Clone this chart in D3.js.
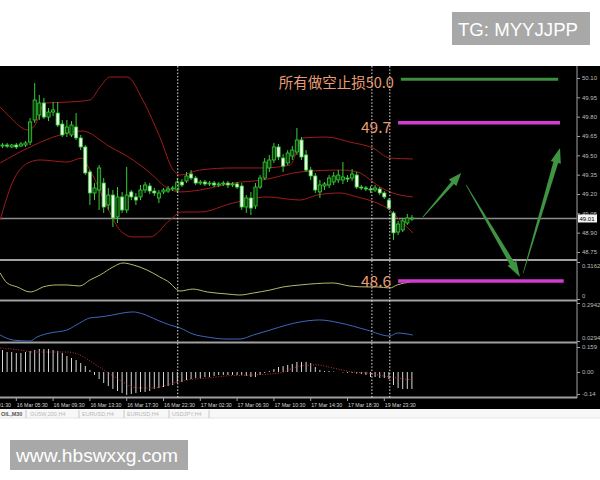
<!DOCTYPE html>
<html><head><meta charset="utf-8">
<script src="https://cdn.jsdelivr.net/npm/d3@7"></script>
<style>body{margin:0;background:#fff}svg{display:block}</style>
</head><body>
<svg id="c" width="600" height="480"></svg>
<script>
// ---------------- DATA ----------------
const timeLabels = ["16 Mar 01:30","16 Mar 05:30","16 Mar 09:30","16 Mar 13:30","16 Mar 17:30","16 Mar 22:30","17 Mar 02:30","17 Mar 06:30","17 Mar 10:30","17 Mar 14:30","17 Mar 18:30","19 Mar 23:30"];
const timeLabelIdx = [-5,3,11,19,27,35,43,51,59,67,75,83];

const open  = [49.572,49.580,49.565,49.580,49.572,49.580,49.603,49.774,49.813,49.906,49.797,49.836,49.828,49.743,49.673,49.658,49.720,49.635,49.565,49.371,
49.208,49.231,49.285,49.115,49.192,49.022,49.177,49.076,49.216,49.177,49.177,49.231,49.262,49.223,49.169,49.216,49.223,49.239,49.231,49.293,
49.301,49.355,49.324,49.285,49.293,49.278,49.285,49.270,49.278,49.285,49.270,49.278,49.262,49.099,49.169,49.107,49.254,49.324,49.402,49.464,
49.565,49.479,49.441,49.495,49.526,49.619,49.503,49.386,49.340,49.216,49.262,49.270,49.293,49.309,49.309,49.324,49.324,49.347,49.254,49.247,
49.239,49.231,49.239,49.208,49.153,49.053,48.905,48.921,48.975,49.006];
const high  = [49.596,49.596,49.588,49.596,49.603,49.611,49.790,50.061,49.968,49.945,49.867,49.914,49.914,49.774,49.774,49.766,49.828,49.658,49.580,49.386,
49.285,49.425,49.324,49.247,49.231,49.254,49.216,49.410,49.231,49.208,49.270,49.293,49.285,49.247,49.231,49.247,49.262,49.262,49.324,49.316,
49.371,49.386,49.340,49.309,49.309,49.301,49.301,49.293,49.301,49.301,49.293,49.293,49.285,49.192,49.216,49.285,49.347,49.479,49.503,49.596,
49.588,49.510,49.541,49.572,49.712,49.642,49.541,49.410,49.363,49.309,49.293,49.347,49.371,49.386,49.448,49.347,49.394,49.371,49.270,49.262,
49.262,49.270,49.254,49.223,49.169,49.068,48.991,49.014,49.045,49.037];
const low   = [49.557,49.557,49.557,49.549,49.565,49.565,49.580,49.751,49.774,49.782,49.766,49.805,49.720,49.642,49.642,49.642,49.619,49.541,49.347,49.115,
49.153,49.076,49.053,49.076,48.944,48.975,49.053,49.053,49.153,49.115,49.153,49.208,49.200,49.185,49.130,49.200,49.208,49.223,49.208,49.254,
49.285,49.309,49.270,49.270,49.262,49.262,49.254,49.254,49.262,49.247,49.254,49.239,49.076,49.053,49.037,49.084,49.239,49.309,49.371,49.441,
49.464,49.371,49.425,49.464,49.503,49.464,49.371,49.309,49.208,49.169,49.231,49.247,49.270,49.285,49.278,49.293,49.301,49.239,49.231,49.223,
49.208,49.216,49.192,49.161,49.076,48.843,48.882,48.905,48.960,48.991];
const close = [49.580,49.572,49.580,49.565,49.588,49.596,49.759,49.929,49.906,49.797,49.836,49.852,49.735,49.658,49.720,49.735,49.635,49.565,49.363,49.208,
49.247,49.402,49.099,49.192,49.014,49.177,49.076,49.192,49.177,49.153,49.231,49.270,49.223,49.208,49.208,49.231,49.239,49.247,49.293,49.270,
49.340,49.324,49.285,49.293,49.278,49.285,49.270,49.278,49.285,49.270,49.278,49.254,49.099,49.169,49.091,49.254,49.324,49.448,49.464,49.565,
49.487,49.417,49.518,49.541,49.619,49.487,49.386,49.340,49.231,49.270,49.278,49.324,49.340,49.347,49.332,49.316,49.355,49.254,49.247,49.239,
49.231,49.247,49.208,49.177,49.091,48.898,48.967,48.991,49.014,49.014];

// Bollinger bands [bar index, price]
const bbUpper = [[-0.5,49.875],[1.6,49.797],[5.5,49.697],[7.1,49.735],[9.2,49.906],[14.7,49.914],[19,49.929],[21.2,50.030],[23.4,50.108],[27.1,50.108],[30.5,49.929],[34.2,49.642],[37.1,49.386],[38.6,49.347],[42.9,49.386],[50.1,49.402],[56.6,49.402],[62.5,49.425],[65.3,49.635],[70.5,49.642],[75.5,49.603],[80.5,49.557],[84.2,49.479],[89.2,49.472]];
const bbMiddle = [[-0.5,49.441],[6,49.565],[12.5,49.658],[17.3,49.689],[23.4,49.565],[28.4,49.464],[32.1,49.363],[35.8,49.247],[38.6,49.216],[42.9,49.231],[50.1,49.285],[56.6,49.309],[64.7,49.371],[73.4,49.386],[77.1,49.371],[82.1,49.254],[84.2,49.216],[89.2,49.177]];
const bbLower = [[-0.5,48.998],[2.1,49.285],[6,49.448],[8.2,49.464],[14,49.448],[17.3,49.479],[19,49.386],[23.4,49.053],[25.5,48.921],[28.4,48.867],[32.1,48.867],[36.4,48.998],[39,49.060],[42.9,49.060],[50.1,49.130],[57.5,49.177],[64.7,49.153],[68.4,49.192],[73.4,49.208],[77.1,49.177],[81.4,49.130],[84.2,49.076],[86.4,48.998],[89.2,48.898]];

// indicator window 1 (yellow) [bar index, value]
const ind1 = [[-0.5,0.222],[1,0.137],[3.2,0.103],[6,0.060],[7.5,0.077],[8.8,0.103],[11.8,0.120],[14,0.120],[16.8,0.111],[19,0.162],[21.2,0.205],[24,0.273],[26.2,0.308],[28.4,0.291],[31.4,0.248],[34.2,0.188],[36.4,0.137],[37.5,0.094],[38.6,0.068],[41.4,0.085],[44.5,0.060],[48.8,0.043],[51.6,0.034],[54.5,0.051],[58.2,0.077],[61,0.103],[64.7,0.120],[71.8,0.137],[75.5,0.111],[79.2,0.103],[81.4,0.103],[84.2,0.094],[85.8,0.120],[88.6,0.145]];
const ind1Ticks = [0.3162, 0];
const ind1TickLabels = ["0.3162","0"];

// indicator window 2 (blue)
const ind2 = [[-0.5,0.071],[2.3,0.036],[6,0.029],[7.5,0.057],[10.3,0.085],[14,0.106],[16.8,0.155],[19,0.190],[21.2,0.197],[24,0.211],[26.2,0.225],[28.4,0.232],[30.5,0.218],[33.6,0.176],[36.4,0.141],[38.6,0.120],[41.4,0.078],[44.5,0.057],[48.8,0.043],[51.6,0.043],[54.5,0.071],[58.2,0.106],[61.8,0.141],[64.7,0.162],[69,0.176],[73.4,0.155],[79.2,0.106],[84.2,0.064],[85.8,0.085],[89.2,0.071]];
const ind2Ticks = [0.2942, 0.0294];
const ind2TickLabels = ["0.2942","0.0294"];

// MACD histogram (one per bar) and signal [bar index, value]
const macdHist = [0.140,0.127,0.127,0.121,0.121,0.127,0.134,0.140,0.146,0.146,0.146,0.140,0.134,0.121,0.102,0.089,0.076,0.057,0.038,0.013,
-0.019,-0.045,-0.070,-0.089,-0.108,-0.121,-0.134,-0.146,-0.140,-0.134,-0.127,-0.127,-0.121,-0.108,-0.102,-0.096,-0.089,-0.083,-0.070,-0.064,
-0.051,-0.045,-0.038,-0.038,-0.032,-0.032,-0.025,-0.019,-0.019,-0.019,-0.019,-0.019,-0.019,-0.025,-0.032,-0.032,-0.019,-0.006,0.006,0.019,
0.032,0.038,0.045,0.051,0.064,0.064,0.064,0.057,0.032,0.013,0.006,0.006,0.003,0.000,-0.003,-0.006,-0.006,-0.010,-0.013,-0.019,
-0.032,-0.032,-0.038,-0.038,-0.045,-0.083,-0.102,-0.108,-0.108,-0.108];
const macdSignal = [[-0.5,0.153],[3.8,0.140],[6.6,0.127],[10.3,0.127],[14,0.127],[16.8,0.108],[19.7,0.057],[22.7,0],[25.5,-0.051],[28.4,-0.096],[31.4,-0.102],[34.2,-0.096],[37.1,-0.070],[40.1,-0.051],[44.5,-0.038],[48.8,-0.025],[54.5,-0.019],[60.3,-0.006],[64.7,0.038],[68.4,0.045],[71.9,0.025],[76.2,0],[79.2,-0.006],[82.7,-0.025],[85.8,-0.038],[89.2,-0.051]];
const macdTicks = [0.159, 0, -0.14];
const macdTickLabels = ["0.159","0.00","-0.14"];

const priceTicks = [50.10,49.95,49.80,49.65,49.50,49.35,49.20,49.05,48.90,48.75];
const currentPrice = 49.01;
const separatorIdx = [38.1, 80.3, 84.2];

// hand-drawn annotations (bar index / price)
const levelPrice = [50.09, 49.753, 48.525];
const levelFromIdx = [86.6, 86.0, 86.0];
const levelToIdx = [120.8, 121.2, 122.0];
const levelText = ["所有做空止损50.0", "49.7", "48.6"];
const arrowFromIdx = [91.4, 100.8, 113.2];
const arrowFromPrice = [49.022, 49.270, 48.587];
const arrowToIdx = [99.7, 112.5, 121.2];
const arrowToPrice = [49.363, 48.556, 49.557];

const tabLabels = ["OIL,M30","GU5W,200,H4","EURUSD,H4","EURUSD,H4","USDJPY,H4"];

// ---------------- DRAW ----------------
const svg = d3.select("#c");
svg.append("rect").attr("width",600).attr("height",480).attr("fill","#fff");
svg.append("rect").attr("x",0).attr("y",66).attr("width",600).attr("height",343).attr("fill","#000");

const x  = d3.scaleLinear().domain([0,89]).range([2.5,411.9]);
const yP = d3.scaleLinear().domain([48.75,50.10]).range([252,78]);
const yA = d3.scaleLinear().domain([0,0.3162]).range([299,262]);
const yB = d3.scaleLinear().domain([0.0294,0.2942]).range([341,303]);
const yM = d3.scaleLinear().domain([-0.14,0.159]).range([394,347]);

const defs = svg.append("defs");
function clip(id,y0,h){ defs.append("clipPath").attr("id",id).append("rect").attr("x",0).attr("y",y0).attr("width",576).attr("height",h); }
clip("cMain",66,193); clip("cA",261,38); clip("cB",302,40); clip("cM",344,53);

const GREEN = "#38cf38";
// separators
const sepY = [260, 300.5, 342.5, 397.5];
svg.append("g").selectAll("line").data(sepY).join("line")
  .attr("x1",0).attr("x2",577).attr("y1",d=>d).attr("y2",d=>d)
  .attr("stroke","#a0a0a0").attr("stroke-width",2);
svg.append("line").attr("x1",577).attr("x2",577).attr("y1",66).attr("y2",398).attr("stroke","#a0a0a0").attr("stroke-width",1);

// current price line
svg.append("line").attr("x1",0).attr("x2",577).attr("y1",yP(currentPrice)).attr("y2",yP(currentPrice))
  .attr("stroke","#8c8c8c").attr("stroke-width",1.5);

// bands
const gMain = svg.append("g").attr("clip-path","url(#cMain)");
const bandLine = d3.line().x(d=>x(d[0])).y(d=>yP(d[1])).curve(d3.curveMonotoneX);
[bbUpper,bbMiddle,bbLower].forEach(b=>{
  gMain.append("path").attr("d",bandLine(b)).attr("fill","none").attr("stroke","#a01c1c").attr("stroke-width",1);
});

// candles
const bars = d3.range(open.length);
gMain.append("g").selectAll("line").data(bars).join("line")
  .attr("x1",i=>x(i)).attr("x2",i=>x(i)).attr("y1",i=>yP(high[i])).attr("y2",i=>yP(low[i]))
  .attr("stroke",GREEN).attr("stroke-width",1);
gMain.append("g").selectAll("rect").data(bars).join("rect")
  .attr("x",i=>x(i)-1.6).attr("width",3.2)
  .attr("y",i=>yP(Math.max(open[i],close[i])))
  .attr("height",i=>Math.max(1,Math.abs(yP(open[i])-yP(close[i]))))
  .attr("fill",i=>close[i]>=open[i]?"#0b3a0b":"#eefcee")
  .attr("stroke",GREEN).attr("stroke-width",0.8);

// indicator 1
const gA = svg.append("g").attr("clip-path","url(#cA)");
gA.append("path").attr("d",d3.line().x(d=>x(d[0])).y(d=>yA(d[1])).curve(d3.curveMonotoneX)(ind1))
  .attr("fill","none").attr("stroke","#b9b86c").attr("stroke-width",1);
// indicator 2
const gB = svg.append("g").attr("clip-path","url(#cB)");
gB.append("path").attr("d",d3.line().x(d=>x(d[0])).y(d=>yB(d[1])).curve(d3.curveMonotoneX)(ind2))
  .attr("fill","none").attr("stroke","#3f66bd").attr("stroke-width",1);
// MACD
const gM = svg.append("g").attr("clip-path","url(#cM)");
gM.append("g").selectAll("line").data(macdHist).join("line")
  .attr("x1",(d,i)=>x(i)).attr("x2",(d,i)=>x(i)).attr("y1",yM(0)).attr("y2",d=>yM(d))
  .attr("stroke","#d6d6d6").attr("stroke-width",1);
gM.append("path").attr("d",d3.line().x(d=>x(d[0])).y(d=>yM(d[1])).curve(d3.curveMonotoneX)(macdSignal))
  .attr("fill","none").attr("stroke","#c83232").attr("stroke-width",1).attr("stroke-dasharray","1,1.6");

// period separators
svg.append("g").selectAll("line").data(separatorIdx).join("line")
  .attr("x1",d=>x(d)).attr("x2",d=>x(d)).attr("y1",66).attr("y2",398)
  .attr("stroke","#e6e6e6").attr("stroke-width",1).attr("stroke-dasharray","1.5,1.8");

// axes
const axFont = "Liberation Sans, Arial, sans-serif";
function styleAxis(g){
  g.select(".domain").remove();
  g.selectAll(".tick line").attr("stroke","#a0a0a0");
  g.selectAll(".tick text").attr("fill","#bdbdbd").attr("font-size",6).attr("font-family",axFont);
}
const axP = svg.append("g").attr("transform","translate(577,0)")
  .call(d3.axisRight(yP).tickValues(priceTicks).tickSize(3).tickPadding(2).tickFormat(d3.format(".2f")));
styleAxis(axP);
const axA = svg.append("g").attr("transform","translate(577,0)")
  .call(d3.axisRight(yA).tickValues(ind1Ticks).tickSize(3).tickPadding(2).tickFormat((d,i)=>ind1TickLabels[i]));
styleAxis(axA);
axA.selectAll(".tick text").attr("dy",(d,i)=>i===0?"0.85em":"-0.2em");
const axB = svg.append("g").attr("transform","translate(577,0)")
  .call(d3.axisRight(yB).tickValues(ind2Ticks).tickSize(3).tickPadding(2).tickFormat((d,i)=>ind2TickLabels[i]));
styleAxis(axB);
axB.selectAll(".tick text").attr("dy",(d,i)=>i===0?"0.65em":"-0.2em");
const axM = svg.append("g").attr("transform","translate(577,0)")
  .call(d3.axisRight(yM).tickValues(macdTicks).tickSize(3).tickPadding(2).tickFormat((d,i)=>macdTickLabels[i]));
styleAxis(axM);

// current price box
const cpy = yP(currentPrice);
svg.append("rect").attr("x",578).attr("y",cpy-4).attr("width",19).attr("height",8).attr("fill","#f4f4f4");
svg.append("text").attr("x",579.5).attr("y",cpy+2.2).attr("font-size",6).attr("font-family",axFont).attr("fill","#000").text(d3.format(".2f")(currentPrice));

// time axis
const gT = svg.append("g");
gT.selectAll("line").data(timeLabelIdx).join("line")
  .attr("x1",d=>x(d)).attr("x2",d=>x(d)).attr("y1",398).attr("y2",401).attr("stroke","#a0a0a0");
gT.selectAll("text").data(timeLabels).join("text")
  .attr("x",(d,i)=>x(timeLabelIdx[i])+0.5).attr("y",406.5)
  .attr("font-size",6).attr("font-family",axFont).attr("fill","#d4d4d4")
  .attr("textLength",31).attr("lengthAdjust","spacingAndGlyphs").text(d=>d);

// tabs
svg.append("rect").attr("x",0).attr("y",409).attr("width",600).attr("height",9).attr("fill","#f7f7f7");
svg.append("line").attr("x1",0).attr("x2",600).attr("y1",418).attr("y2",418).attr("stroke","#e4e4e4");
const tabX = [1, 30, 82, 127, 172];
const tabSepX = [26, 79, 124, 169, 209];
svg.append("g").selectAll("line").data(tabSepX).join("line")
  .attr("x1",d=>d).attr("x2",d=>d).attr("y1",410).attr("y2",418).attr("stroke","#c8c8c8");
svg.append("g").selectAll("text").data(tabLabels).join("text")
  .attr("x",(d,i)=>tabX[i]).attr("y",416)
  .attr("font-size",5.5).attr("font-family",axFont)
  .attr("fill",(d,i)=>i===0?"#555":"#b8b8b8").attr("font-weight",(d,i)=>i===0?"bold":"normal").text(d=>d);

// annotations: level lines
const levelColor = ["#3e8e3e","#d43ad4","#d43ad4"];
const levelWidth = [3,3.5,3.5];
const levelDy = [9,10.5,6];
const gO = svg.append("g");
levelPrice.forEach((p,k)=>{
  gO.append("line").attr("x1",x(levelFromIdx[k])).attr("x2",x(levelToIdx[k])).attr("y1",yP(p)).attr("y2",yP(p))
    .attr("stroke",levelColor[k]).attr("stroke-width",levelWidth[k]);
  gO.append("text").attr("x",x(levelFromIdx[k])-7).attr("y",yP(p)+levelDy[k])
    .attr("text-anchor","end").attr("font-size",k===0?14.5:15.5)
    .attr("font-family","'Noto Sans CJK SC','Noto Sans',sans-serif")
    .attr("fill","#e89c72").text(levelText[k]);
});

// annotations: arrows
const arrowSpec = [{w0:0.8,w1:3.5,hl:13,hw:10},{w0:0.6,w1:5,hl:16,hw:10},{w0:0.6,w1:5,hl:15,hw:10.5}];
arrowFromIdx.forEach((fi,k)=>{
  const p0=[x(fi),yP(arrowFromPrice[k])], p1=[x(arrowToIdx[k]),yP(arrowToPrice[k])];
  const dx=p1[0]-p0[0], dy=p1[1]-p0[1], L=Math.hypot(dx,dy);
  const u=[dx/L,dy/L], n=[-u[1],u[0]], s=arrowSpec[k];
  const B=[p1[0]-u[0]*s.hl, p1[1]-u[1]*s.hl];
  const pt=(P,w)=>[P[0]+n[0]*w/2, P[1]+n[1]*w/2];
  const poly=[pt(p0,s.w0),pt(B,s.w1),pt(B,s.hw),p1,pt(B,-s.hw),pt(B,-s.w1),pt(p0,-s.w0)];
  gO.append("path").attr("d",d3.line()(poly)+"Z").attr("fill","#3f9441");
});

// watermark boxes
svg.append("rect").attr("x",452).attr("y",12).attr("width",138).attr("height",33).attr("fill","#a8a8a8");
svg.append("text").attr("x",458).attr("y",36).attr("font-size",19).attr("font-family","Liberation Sans, Arial, sans-serif")
  .attr("fill","#fff").attr("textLength",120).attr("lengthAdjust","spacingAndGlyphs").text("TG: MYYJJPP");
svg.append("rect").attr("x",10).attr("y",440).attr("width",178).attr("height",30).attr("fill","#a8a8a8");
svg.append("text").attr("x",16).attr("y",462).attr("font-size",18).attr("font-family","Liberation Sans, Arial, sans-serif")
  .attr("fill","#fff").attr("textLength",162).attr("lengthAdjust","spacingAndGlyphs").text("www.hbswxxg.com");
</script></body></html>
